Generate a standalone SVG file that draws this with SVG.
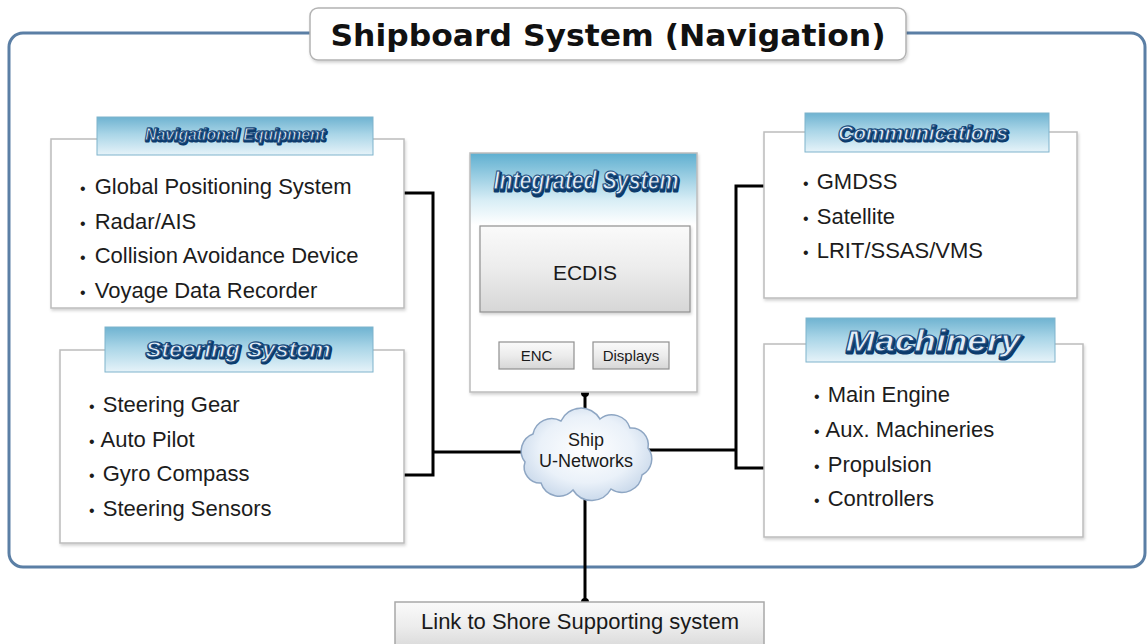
<svg xmlns="http://www.w3.org/2000/svg" width="1147" height="644" viewBox="0 0 1147 644">
  <defs>
    <linearGradient id="banner" x1="0" y1="0" x2="0" y2="1">
      <stop offset="0" stop-color="#6fb3d1"/>
      <stop offset="0.45" stop-color="#a9d5e7"/>
      <stop offset="1" stop-color="#e6f3f9"/>
    </linearGradient>
    <linearGradient id="intHead" x1="0" y1="0" x2="0" y2="1">
      <stop offset="0" stop-color="#5eafd0"/>
      <stop offset="0.2" stop-color="#d9eef6"/>
      <stop offset="0.3" stop-color="#ffffff"/>
      <stop offset="1" stop-color="#ffffff"/>
    </linearGradient>
    <linearGradient id="grayBtn" x1="0" y1="0" x2="0" y2="1">
      <stop offset="0" stop-color="#fafafa"/>
      <stop offset="0.5" stop-color="#ececec"/>
      <stop offset="1" stop-color="#d6d6d6"/>
    </linearGradient>
    <radialGradient id="cloudFill" cx="0.5" cy="0.45" r="0.6">
      <stop offset="0" stop-color="#ffffff"/>
      <stop offset="0.6" stop-color="#eaf1f9"/>
      <stop offset="1" stop-color="#c3d4e8"/>
    </radialGradient>
    <filter id="soft" x="-5%" y="-5%" width="110%" height="115%">
      <feDropShadow dx="1" dy="2" stdDeviation="1.5" flood-color="#000" flood-opacity="0.18"/>
    </filter>
  </defs>
  <style>
    .panel { fill: #ffffff; stroke: #bcbcbc; stroke-width: 1.5; }
    .band { fill: url(#banner); stroke: #7fb3cc; stroke-width: 1; }
    .item { font-family: "Liberation Sans", Arial, sans-serif; font-size: 22px; fill: #1c1c1c; }
    .bul { font-size: 16px; }
    .hshadow { font-family: "Liberation Sans", Arial, sans-serif; font-weight: bold; font-style: italic; fill: #0c3b6c; stroke: #0c3b6c; stroke-width: 3; stroke-linejoin: round; text-anchor: middle; }
    .htop { font-family: "Liberation Sans", Arial, sans-serif; font-weight: bold; font-style: italic; fill: #e3eef8; stroke: #1b4d80; stroke-width: 1; text-anchor: middle; }
    .btn { fill: url(#grayBtn); stroke: #8f8f8f; stroke-width: 1.2; }
    .label { font-family: "Liberation Sans", Arial, sans-serif; fill: #1a1a1a; text-anchor: middle; }
    .wire { stroke: #000; stroke-width: 3; fill: none; }
  </style>

  <rect width="1147" height="644" fill="#ffffff"/>

  <!-- outer frame -->
  <g id="frame">
    <rect x="9" y="33" width="1136" height="534" rx="14" fill="none" stroke="#5b7fa5" stroke-width="3"/>
  </g>

  <!-- connectors -->
  <g id="connectors">
    <polyline class="wire" points="404,193 433,193 433,475 404,475"/>
    <line class="wire" x1="433" y1="452" x2="560" y2="452"/>
    <polyline class="wire" points="764,186 736,186 736,468 764,468"/>
    <line class="wire" x1="610" y1="450" x2="736" y2="450"/>
    <line class="wire" x1="585" y1="393" x2="585" y2="440"/>
    <line class="wire" x1="585" y1="470" x2="585" y2="602"/>
    <circle cx="585" cy="393" r="4" fill="#000"/>
    <circle cx="585" cy="602" r="4" fill="#000"/>
  </g>

  <!-- title -->
  <g id="title">
    <rect x="310" y="8" width="596" height="52" rx="8" fill="#ffffff" stroke="#b3b3b3" stroke-width="1.5" filter="url(#soft)"/>
    <text x="608" y="46" text-anchor="middle" font-family="DejaVu Sans, Verdana, sans-serif" font-weight="bold" font-size="30" fill="#111" textLength="555" lengthAdjust="spacingAndGlyphs">Shipboard System (Navigation)</text>
  </g>

  <!-- navigational equipment -->
  <g id="nav-equipment">
    <rect class="panel" x="51" y="139" width="353" height="169" filter="url(#soft)"/>
    <rect class="band" x="97" y="117" width="276" height="38"/>
    <text class="hshadow" x="236" y="141" font-size="17" textLength="180" lengthAdjust="spacingAndGlyphs">Navigational Equipment</text>
    <text class="htop" x="235" y="139.5" font-size="17" textLength="180" lengthAdjust="spacingAndGlyphs">Navigational Equipment</text>
    <text class="item" x="80" y="194"><tspan class="bul">•</tspan><tspan dx="3"> Global Positioning System</tspan></text>
    <text class="item" x="80" y="229"><tspan class="bul">•</tspan><tspan dx="3"> Radar/AIS</tspan></text>
    <text class="item" x="80" y="263"><tspan class="bul">•</tspan><tspan dx="3"> Collision Avoidance Device</tspan></text>
    <text class="item" x="80" y="298"><tspan class="bul">•</tspan><tspan dx="3"> Voyage Data Recorder</tspan></text>
  </g>

  <!-- steering system -->
  <g id="steering">
    <rect class="panel" x="60" y="350" width="344" height="193" filter="url(#soft)"/>
    <rect class="band" x="105" y="327" width="268" height="45"/>
    <text class="hshadow" x="239" y="358" font-size="22" textLength="185" lengthAdjust="spacingAndGlyphs">Steering System</text>
    <text class="htop" x="238" y="356.5" font-size="22" textLength="185" lengthAdjust="spacingAndGlyphs">Steering System</text>
    <text class="item" x="89" y="412"><tspan class="bul">•</tspan><tspan dx="2"> Steering Gear</tspan></text>
    <text class="item" x="89" y="447"><tspan class="bul">•</tspan><tspan dx="1"> Auto Pilot</tspan></text>
    <text class="item" x="89" y="481"><tspan class="bul">•</tspan><tspan dx="2"> Gyro Compass</tspan></text>
    <text class="item" x="89" y="516"><tspan class="bul">•</tspan><tspan dx="2"> Steering Sensors</tspan></text>
  </g>

  <!-- integrated system -->
  <g id="integrated">
    <rect x="470" y="153" width="227" height="239" fill="url(#intHead)" stroke="#bcbcbc" stroke-width="1.5" filter="url(#soft)"/>
    <text class="hshadow" x="587" y="191" font-size="25" textLength="185" lengthAdjust="spacingAndGlyphs">Integrated System</text>
    <text class="htop" x="586" y="189" font-size="25" textLength="185" lengthAdjust="spacingAndGlyphs">Integrated System</text>
    <rect class="btn" x="480" y="226" width="210" height="86" filter="url(#soft)"/>
    <text class="label" x="585" y="280" font-size="21">ECDIS</text>
    <rect class="btn" x="499" y="342" width="75" height="27"/>
    <text class="label" x="536.5" y="361" font-size="15">ENC</text>
    <rect class="btn" x="593" y="342" width="76" height="27"/>
    <text class="label" x="631" y="361" font-size="15">Displays</text>
  </g>

  <!-- communications -->
  <g id="communications">
    <rect class="panel" x="764" y="132" width="313" height="166" filter="url(#soft)"/>
    <rect class="band" x="805" y="113" width="244" height="39"/>
    <text class="hshadow" x="924" y="141" font-size="21" textLength="170" lengthAdjust="spacingAndGlyphs">Communications</text>
    <text class="htop" x="923" y="139.5" font-size="21" textLength="170" lengthAdjust="spacingAndGlyphs">Communications</text>
    <text class="item" x="803" y="189"><tspan class="bul">•</tspan><tspan dx="2"> GMDSS</tspan></text>
    <text class="item" x="803" y="224"><tspan class="bul">•</tspan><tspan dx="2"> Satellite</tspan></text>
    <text class="item" x="803" y="258"><tspan class="bul">•</tspan><tspan dx="2"> LRIT/SSAS/VMS</tspan></text>
  </g>

  <!-- machinery -->
  <g id="machinery">
    <rect class="panel" x="764" y="344" width="319" height="193" filter="url(#soft)"/>
    <rect class="band" x="806" y="318" width="249" height="44"/>
    <text class="hshadow" x="934" y="353" font-size="29" textLength="175" lengthAdjust="spacingAndGlyphs">Machinery</text>
    <text class="htop" x="933" y="351" font-size="29" textLength="175" lengthAdjust="spacingAndGlyphs">Machinery</text>
    <text class="item" x="814" y="402"><tspan class="bul">•</tspan><tspan dx="2"> Main Engine</tspan></text>
    <text class="item" x="814" y="437"><tspan class="bul">•</tspan><tspan dx="1"> Aux. Machineries</tspan></text>
    <text class="item" x="814" y="472"><tspan class="bul">•</tspan><tspan dx="2"> Propulsion</tspan></text>
    <text class="item" x="814" y="506"><tspan class="bul">•</tspan><tspan dx="2"> Controllers</tspan></text>
  </g>

  <!-- network cloud -->
  <g id="ship-network">
    <path d="M525,462 A18,18 0 0 1 533,434 A19,19 0 0 1 561,421 A22,22 0 0 1 600,419 A19,19 0 0 1 630,428 A17,17 0 0 1 648,448 A18,18 0 0 1 642,475 A20,20 0 0 1 611,489 A22,22 0 0 1 573,490 A19,19 0 0 1 541,483 A16,16 0 0 1 525,462 Z" fill="url(#cloudFill)" stroke="#8ea6c3" stroke-width="1.5"/>
    <text class="label" x="586" y="446" font-size="18">Ship</text>
    <text class="label" x="586" y="467" font-size="18">U-Networks</text>
  </g>

  <!-- shore link -->
  <g id="shore-link">
    <rect x="395" y="602" width="369" height="50" fill="url(#grayBtn)" stroke="#a8a8a8" stroke-width="1.5"/>
    <text class="label" x="580" y="629" font-size="22">Link to Shore Supporting system</text>
  </g>
</svg>
